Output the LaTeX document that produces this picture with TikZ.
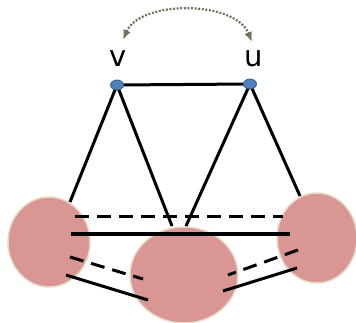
\documentclass[tikz,border=0pt]{standalone}
\usepackage{fontspec}
\setmainfont{DejaVu Sans}
\usetikzlibrary{arrows.meta,shapes.geometric}
\definecolor{blobfill}{HTML}{D99694}
\definecolor{blobedge}{HTML}{E4DCC6}
\definecolor{vfill}{HTML}{4F81BD}
\definecolor{vedge}{HTML}{385D8A}
\definecolor{arcol}{HTML}{4E4E36}
\begin{document}
\begin{tikzpicture}[x=1pt,y=-1pt,
  blob/.style={ellipse,fill=blobfill,draw=blobedge,line width=1.5pt,inner sep=0pt},
  vert/.style={ellipse,fill=vfill,draw=vedge,line width=0.8pt,minimum width=13pt,minimum height=10pt,inner sep=0pt},
  lbl/.style={font=\fontsize{29}{31}\selectfont,inner sep=0pt},
  edge/.style={line width=3pt,black},
  dedge/.style={edge,dash pattern=on 14pt off 8pt},
  swap/.style={line width=2.2pt,arcol!80,dash pattern=on 2pt off 1.6pt,
    {Latex[length=10pt,width=8pt]}-{Latex[length=10pt,width=8pt]}}]
\useasboundingbox (0,0) rectangle (356,323);
\begin{scope}
\clip (0,0) rectangle (356,323);
\node[blob,minimum width=82pt,minimum height=90pt] (L) at (49,242) {};
\node[blob,minimum width=80pt,minimum height=90pt] (R) at (317,238) {};
\node[blob,minimum width=108pt,minimum height=96pt] (M) at (184,275) {};
\end{scope}
\node[lbl] (tv) at (118,59) {v};
\node[lbl] (tu) at (254,59) {u};
\coordinate (a1) at (123,40);
\coordinate (a2) at (252,42);
\draw[swap] (a1) .. controls (140,0) and (235,0) .. (a2);
% endpoints
\coordinate (vL) at (70,202);
\coordinate (vM) at (172,226);
\coordinate (uM) at (186,226);
\coordinate (uR) at (300,196);
\coordinate (d1) at (75,217);
\coordinate (d2) at (283,217);
\coordinate (s1) at (71,234);
\coordinate (s2) at (290,234);
\coordinate (ld1) at (70,257);
\coordinate (ld2) at (143,279);
\coordinate (ls1) at (66,275);
\coordinate (ls2) at (148,300);
\coordinate (rd1) at (298,250);
\coordinate (rd2) at (228,275);
\coordinate (rs1) at (297,268);
\coordinate (rs2) at (223,291);
\coordinate (vc) at (117,85);
\coordinate (uc) at (250,84);
\draw[edge] (vc) -- (uc);
\draw[edge] (vc) -- (vL);
\draw[edge] (vc) -- (vM);
\draw[edge] (uc) -- (uM);
\draw[edge] (uc) -- (uR);
\draw[dedge] (d1) -- (d2);
\draw[edge] (s1) -- (s2);
\draw[dedge] (ld1) -- (ld2);
\draw[edge] (ls1) -- (ls2);
\draw[dedge] (rd1) -- (rd2);
\draw[edge] (rs1) -- (rs2);
\node[vert] (v) at (vc) {};
\node[vert] (u) at (uc) {};
\end{tikzpicture}
\end{document}
